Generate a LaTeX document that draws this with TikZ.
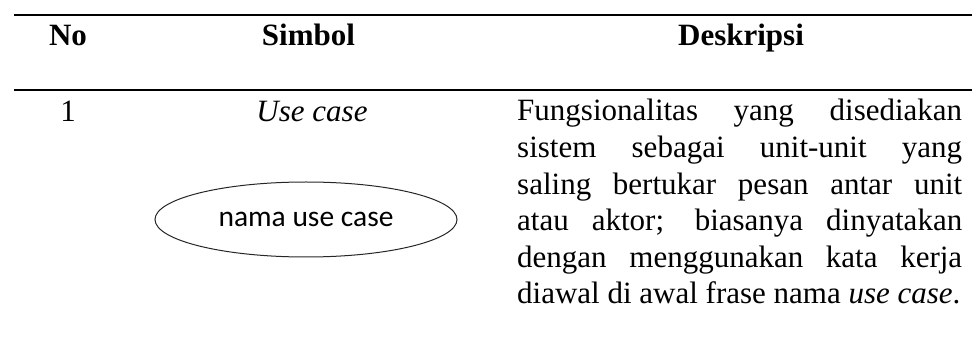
\documentclass[tikz,border=0pt]{standalone}
\usepackage{fontspec}
\setmainfont{Liberation Serif}
\newfontfamily\carlito{Carlito}
\usetikzlibrary{shapes.geometric}
\newcommand{\jline}[1]{\makebox[445pt][s]{#1}}
\begin{document}
\begin{tikzpicture}[x=1pt,y=-1pt,
  rule/.style={line width=2pt},
  head/.style={font=\fontsize{31}{36.6}\selectfont\bfseries, anchor=base, inner sep=0pt},
  cell/.style={font=\fontsize{31}{36.6}\selectfont, anchor=base, inner sep=0pt},
  desctext/.style={font=\fontsize{31}{36.6}\selectfont, anchor=base west, inner sep=0pt},
  ucshape/.style={ellipse, draw=black!85, line width=1pt, minimum width=302pt, minimum height=75pt, inner sep=0pt, font=\carlito\fontsize{29.5}{32}\selectfont}]
\useasboundingbox (0,0) rectangle (972,363);
\coordinate (topl) at (14,15);
\coordinate (topr) at (972,15);
\coordinate (midl) at (14,90.3);
\coordinate (midr) at (972,90.3);
\draw[rule] (topl) -- (topr);
\draw[rule] (midl) -- (midr);
\node[head] (hno) at (68,46) {No};
\node[head] (hsim) at (308.5,46) {Simbol};
\node[head] (hdes) at (741,46) {Deskripsi};
\node[cell] (no1) at (68,122) {1};
\node[cell] (uct) at (312,122) {\itshape Use case};
\node[ucshape] (ucs) at (306,219.5) {nama use case};
\node[desctext] (desc) at (517,121) {\parbox[t]{445pt}{\jline{Fungsionalitas yang disediakan}\\
\jline{sistem sebagai unit-unit yang}\\
\jline{saling bertukar pesan antar unit}\\
\jline{atau aktor; biasanya dinyatakan}\\
\jline{dengan menggunakan kata kerja}\\
diawal di awal frase nama {\itshape use case}.}};
\end{tikzpicture}
\end{document}
